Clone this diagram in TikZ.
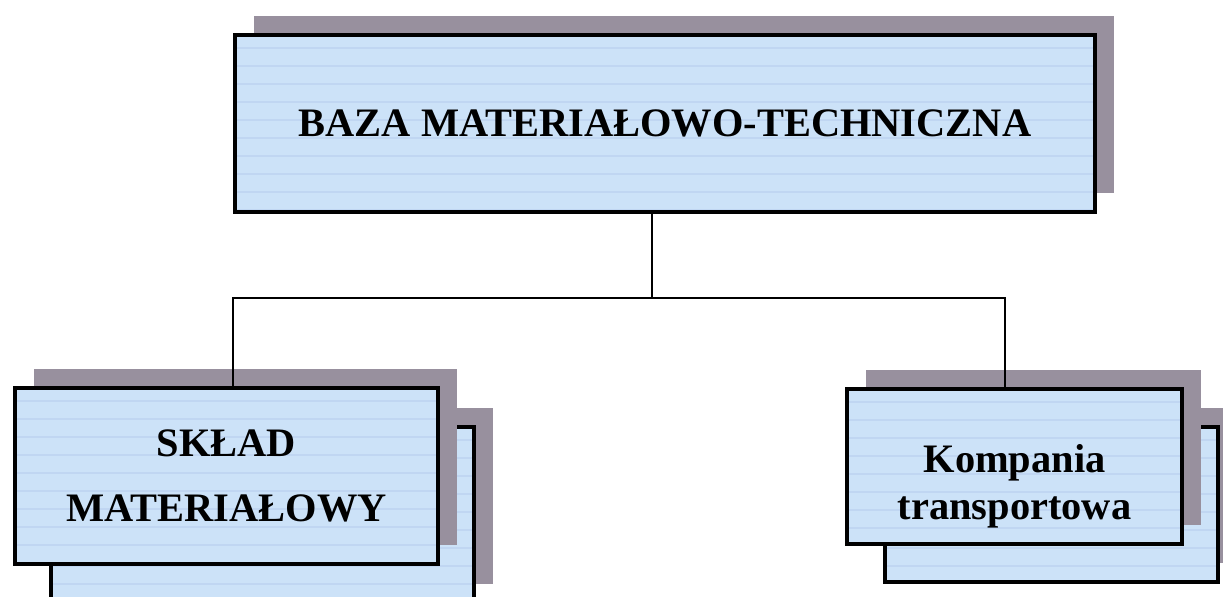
\documentclass[tikz,border=0pt]{standalone}
\usepackage{fontspec}
\setmainfont{Liberation Serif}
\usetikzlibrary{shadows}
\definecolor{cardblue}{RGB}{204,226,248}
\definecolor{cardstripe}{RGB}{192,214,242}
\definecolor{cardshade}{RGB}{152,144,158}
\begin{document}
\begin{tikzpicture}[
    card/.style={draw=black, line width=1.8pt, fill=cardblue, align=center, inner sep=0pt,
      font=\bfseries\fontsize{23}{37}\selectfont,
      drop shadow={shadow xshift=0.37cm, shadow yshift=0.38cm, fill=cardshade, opacity=1},
      path picture={\foreach \k in {1,...,11}
        \draw[cardstripe, line width=0.6pt] ([yshift=-\k*0.36cm+0.1cm]path picture bounding box.north west) -- ++(20,0);}},
    link/.style={line width=1.3pt}]
  \useasboundingbox (0,0) rectangle (24.46,-11.92);
  \node[card, minimum width=8.46cm, minimum height=3.52cm] (sklback) at (5.25,-10.30) {};
  \node[card, minimum width=8.46cm, minimum height=3.52cm] (skl) at (4.53,-9.52) {SKŁAD\\MATERIAŁOWY};
  \node[card, minimum width=6.66cm, minimum height=3.1cm] (kompback) at (21.03,-10.09) {};
  \node[card, minimum width=6.7cm, minimum height=3.1cm, font=\bfseries\fontsize{23}{27}\selectfont]
    (komp) at (20.29,-9.33) {\rule{0pt}{1.36cm}Kompania\\transportowa};
  \node[card, minimum width=17.2cm, minimum height=3.54cm] (baza) at (13.3,-2.47) {BAZA MATERIAŁOWO-TECHNICZNA};
  \coordinate (hub) at (13.04,-5.96);
  \draw[link] (baza.south -| hub) -- (hub);
  \draw[link] ([xshift=0.13cm]skl.north) |- (hub) -| ([xshift=-0.19cm]komp.north);
\end{tikzpicture}
\end{document}
